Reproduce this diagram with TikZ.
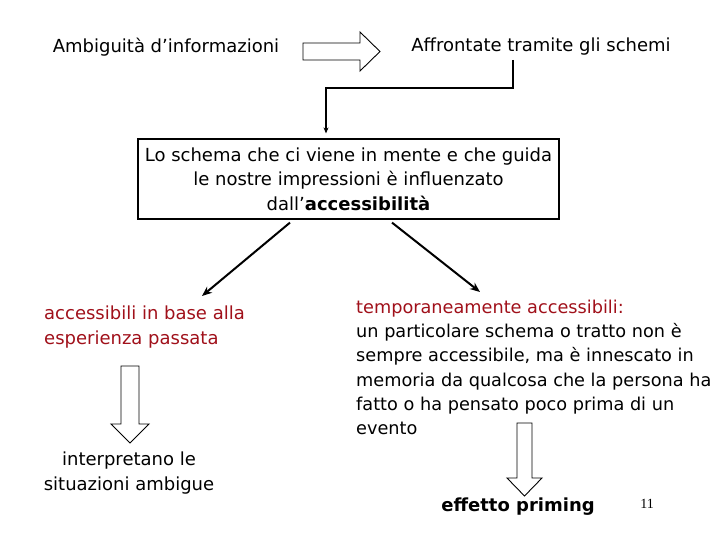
\documentclass[tikz,border=0pt]{standalone}
\usepackage{fontspec}
\setmainfont{DejaVu Sans}
\newfontfamily\pagefont{Liberation Serif}
\usetikzlibrary{arrows.meta, positioning, calc}
\definecolor{accred}{RGB}{160,16,26}

\begin{document}
\begin{tikzpicture}[
        x=1pt, y=-1pt,
        txt/.style={font=\fontsize{18}{24.4}\selectfont, inner sep=0pt},
        redtxt/.style={txt, text=accred},
        schemabox/.style={rectangle, draw=black, line width=1.2pt, minimum width=421pt, minimum height=80pt, align=center, txt},
        blockarr/.style={draw=black, line width=0.9pt, fill=white},
        conn/.style={-{Stealth[length=10pt, width=8pt]}, line width=2pt, draw=black},
        elbow/.style={-{Stealth[length=6pt, width=5pt]}, line width=1.5pt, draw=black}
    ]
        \useasboundingbox (0,0) rectangle (720,540);
        \node[txt] (ambig) at (166,47) {Ambiguità d’informazioni};
        \node[txt] (affr) at (541,47) {Affrontate tramite gli schemi};
        \draw[blockarr] (303,43) -- (360,43) -- (360,32) -- (380,51.5) -- (360,71) -- (360,60) -- (303,60) -- cycle;
        \node[schemabox] (schema) at (348.5,179) {Lo schema che ci viene in mente e che guida\\le nostre impressioni è influenzato\\dall’\textbf{accessibilità}};
        \coordinate (bend) at (513,60);
        \draw[elbow] (bend) -- ++(0,28) -| ($(schema.north)+(-22.5,-5)$);
        \coordinate (ltip) at (202,296);
        \coordinate (rtip) at (480,292);
        \draw[conn] ($(schema.south)+(-58.5,3)$) -- (ltip);
        \draw[conn] ($(schema.south)+(43.5,3)$) -- (rtip);
        \node[redtxt, align=left, anchor=west] (pastexp) at (44,327) {accessibili in base alla\\esperienza passata};
        \draw[blockarr] (121,366) -- (139,366) -- (139,424) -- (149,424) -- (130,443) -- (111,424) -- (121,424) -- cycle;
        \node[txt, align=center] (interp) at (129,473) {interpretano le\\situazioni ambigue};
        \node[txt, font=\fontsize{17.7}{24.3}\selectfont, align=left, anchor=west] (tempacc) at (356,367.5) {\textcolor{accred}{temporaneamente accessibili:}\\un particolare schema o tratto non è\\sempre accessibile, ma è innescato in\\memoria da qualcosa che la persona ha\\fatto o ha pensato poco prima di un\\evento};
        \draw[blockarr] (517,423) -- (532,423) -- (532,478) -- (542,478) -- (524.5,496) -- (507,478) -- (517,478) -- cycle;
        \node[txt, font=\fontsize{18}{24}\selectfont\bfseries] (priming) at (518,507) {effetto priming};
        \node[font=\pagefont\fontsize{14}{16}\selectfont, inner sep=0pt] (pagenum) at (647,504) {11};
    \end{tikzpicture}
\end{document}
